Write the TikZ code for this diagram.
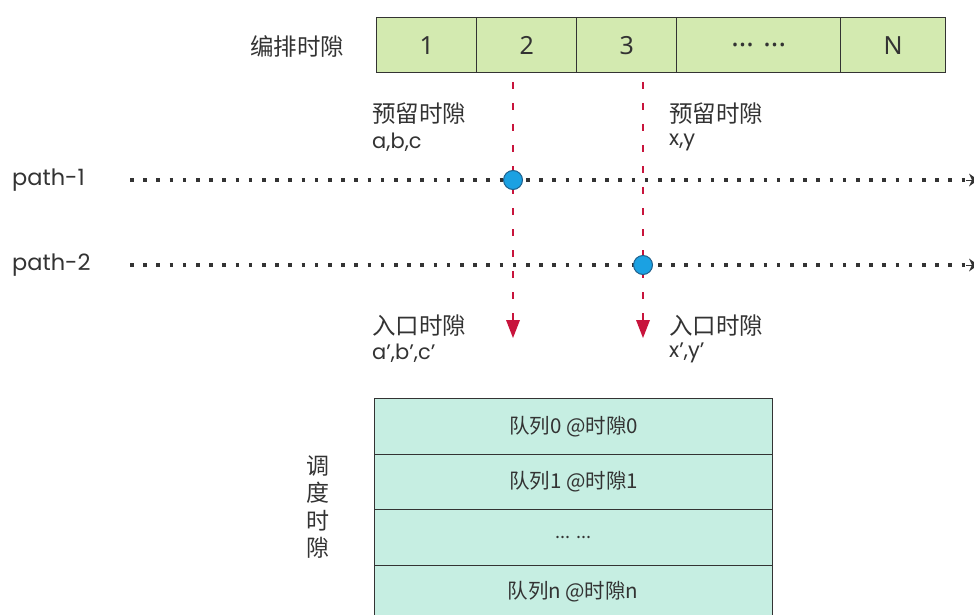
\documentclass[tikz,border=0pt]{standalone}
\usepackage{fontspec}
\setmainfont{Poppins}
\newfontfamily\cjk{Noto Sans CJK SC}
\newfontfamily\numf{Noto Sans}
\usetikzlibrary{arrows.meta}
\definecolor{slotgreen}{HTML}{D3EAB0}
\definecolor{mint}{HTML}{C6EEE2}
\definecolor{txt}{HTML}{333333}
\definecolor{crim}{HTML}{C8143C}
\definecolor{dotblue}{HTML}{1BA1E2}
\definecolor{dotedge}{HTML}{1F5F8B}
\tikzset{
  slot/.style={draw=black!80, line width=1.3pt, fill=slotgreen, inner sep=0pt, minimum height=55pt, anchor=north west, text=txt, font=\numf\fontsize{25}{28}\selectfont},
  qrow/.style={draw=black!80, line width=1.3pt, fill=mint, inner sep=0pt, minimum width=398pt, minimum height=55.5pt, anchor=north west, text=txt, font=\cjk\fontsize{20.5}{24}\selectfont},
  lbl/.style={text=txt, font=\cjk\fontsize{23.5}{27}\selectfont, inner sep=0pt, anchor=west},
  sub/.style={text=txt, font=\fontsize{21}{25}\selectfont, inner sep=0pt, anchor=west},
  pathline/.style={black!80, line width=3.6pt, dash pattern=on 3.5pt off 9.7pt},
  pathtip/.style={-{Stealth[length=9pt,width=13pt,line width=0pt]}},
  redline/.style={crim, line width=2.8pt, dash pattern=on 7pt off 14pt},
  redtip/.style={fill=crim, draw=none},
  hit/.style={circle, fill=dotblue, draw=dotedge, line width=1pt, minimum size=19pt, inner sep=0pt},
}
\begin{document}
\begin{tikzpicture}[x=1pt,y=-1pt]
\useasboundingbox (0,0) rectangle (974,615);
% top slots
\node[lbl, anchor=center] (plan) at (297,47) {编排时隙};
\node[slot, minimum width=100pt] (s1) at (376,17) {1};
\node[slot, minimum width=100pt] (s2) at (476,17) {2};
\node[slot, minimum width=100pt] (s3) at (576,17) {3};
\node[slot, minimum width=164pt] (sd) at (676,17) {\fontsize{28}{30}\selectfont ... ...};
\node[slot, minimum width=105pt] (sN) at (840,17) {N};
% path lines
\node[sub, font=\fontsize{22.5}{26}\selectfont] (p1) at (12,180) {path-1};
\node[sub, font=\fontsize{22.5}{26}\selectfont] (p2) at (12,265) {path-2};
\coordinate (p1s) at (130,180);
\coordinate (p1e) at (966,180);
\coordinate (p1t) at (978,180);
\coordinate (p2s) at (130,265);
\coordinate (p2e) at (966,265);
\coordinate (p2t) at (978,265);
\draw[pathline] (p1s) -- (p1e);
\draw[pathline] (p2s) -- (p2e);
\draw[black!80, line width=1pt, pathtip] (p1e) -- (p1t);
\draw[black!80, line width=1pt, pathtip] (p2e) -- (p2t);
% red vertical lines
\coordinate (v1s) at (513,82);
\coordinate (v1e) at (513,320);
\coordinate (v2s) at (643,82);
\coordinate (v2e) at (643,320);
\draw[redline] (v1s) -- (v1e);
\draw[redline] (v2s) -- (v2e);
\fill[redtip] (506,320) -- (520,320) -- (513,338) -- cycle;
\fill[redtip] (636,320) -- (650,320) -- (643,338) -- cycle;
% hit points
\node[hit] (h1) at (513,180) {};
\node[hit] (h2) at (643,265) {};
% labels
\node[lbl] (r1) at (372,114) {预留时隙};
\node[sub] (r1b) at (372,142) {a,b,c};
\node[lbl] (r2) at (669,114) {预留时隙};
\node[sub] (r2b) at (669,142) {x,y};
\node[lbl] (e1) at (372,326) {入口时隙};
\node[sub] (e1b) at (372,353) {a',b',c'};
\node[lbl] (e2) at (669,326) {入口时隙};
\node[sub] (e2b) at (669,353) {x',y'};
% schedule stack
\node[qrow] (q0) at (374,398) {队列0 @时隙0};
\node[qrow] (q1) at (374,453.5) {队列1 @时隙1};
\node[qrow] (qd) at (374,509) {\fontsize{18}{20}\selectfont ... ...};
\node[qrow, minimum height=70pt] (qn) at (374,564.5) {};
\node[text=txt, font=\cjk\fontsize{20.5}{24}\selectfont, inner sep=0pt] (qnt) at (573,592) {队列n @时隙n};
\node[text=txt, font=\cjk\fontsize{23}{27.5}\selectfont, align=center, inner sep=0pt] (sched) at (318,507) {调\\度\\时\\隙};
\end{tikzpicture}
\end{document}
